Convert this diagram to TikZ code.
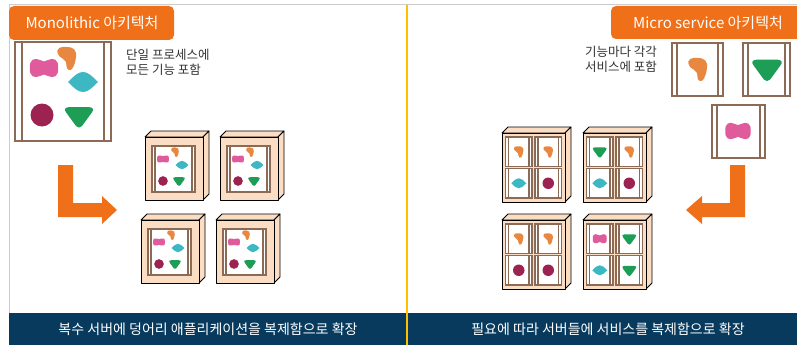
\documentclass[tikz,border=0pt]{standalone}
\usepackage{fontspec}
\setmainfont{Noto Sans CJK KR}
\usepackage{tikz}
\usetikzlibrary{calc}

\definecolor{tabOrange}{HTML}{F07019}
\definecolor{barNavy}{HTML}{083A5E}
\definecolor{splitYellow}{HTML}{FFC000}
\definecolor{frameBrown}{HTML}{8C6B56}
\definecolor{boxPeach}{HTML}{FBDDC3}
\definecolor{shOrange}{HTML}{E8873F}
\definecolor{shPink}{HTML}{E05B9B}
\definecolor{shCyan}{HTML}{3DB8C3}
\definecolor{shMaroon}{HTML}{9C2351}
\definecolor{shGreen}{HTML}{1E9D56}

\tikzset{frame/.style={draw=frameBrown, fill=white},
edge/.style={draw=black, fill=boxPeach, line width=.8pt, line join=round},
titletxt/.style={text=white, font=\fontsize{15}{18}\selectfont, inner sep=0pt},
desc/.style={text=black!80, font=\fontsize{12.5}{15}\selectfont, inner sep=0pt},
bartxt/.style={text=white, font=\fontsize{14}{16}\selectfont, inner sep=0pt},
% the five functions, drawn about their centre
blob/.pic={\fill[shOrange] (-9,-4) .. controls (-12,-10) and (-5,-12) .. (0,-11) .. controls (7,-11) and (10,-7) .. (9,-1) .. controls (8.5,4) and (7,8) .. (5,11) .. controls (3,13) and (-0.5,12) .. (-0.5,8) .. controls (-0.5,4) and (-2,1.5) .. (-4.5,0.5) .. controls (-7,-0.5) and (-8,-2) .. (-9,-4) -- cycle;},
bone/.pic={\fill[shPink] (-14,0) .. controls (-15,-9) and (-9,-10.5) .. (-4,-8) .. controls (-1.5,-6) and (1.5,-6) .. (4,-8) .. controls (9,-10.5) and (15,-9) .. (14,0) .. controls (15,9) and (9,10.5) .. (4,8) .. controls (1.5,6) and (-1.5,6) .. (-4,8) .. controls (-9,10.5) and (-15,9) .. (-14,0) -- cycle;},
gem/.pic={\fill[shCyan] (-15,0) .. controls (-9,-6) and (-5,-10) .. (0,-10) .. controls (5,-10) and (9,-6) .. (15,0) .. controls (9,6) and (5,10) .. (0,10) .. controls (-5,10) and (-9,6) .. (-15,0) -- cycle;},
dot/.pic={\fill[shMaroon] (0,0) circle (11.5);},
tri/.pic={\fill[shGreen] (-9,-9) -- (9,-9) .. controls (14,-9) and (15.5,-6.5) .. (12.5,-3) -- (3,10) .. controls (1.5,12) and (-1.5,12) .. (-3,10) -- (-12.5,-3) .. controls (-15.5,-6.5) and (-14,-9) .. (-9,-9) -- cycle;}}

% brown window: corners, inset of the inner uprights, line width
\newcommand{\pane}[6]{%
  \draw[frame, line width=#6] (#1,#2) rectangle (#3,#4);
  \draw[frameBrown, line width=#6] (#1+#5,#2) -- (#1+#5,#4) (#3-#5,#2) -- (#3-#5,#4);}
% server cabinet seen a little from above
\newcommand{\server}[4]{%
  \draw[edge] (#1,#2) -- (#1+6,#2-6) -- (#3+6,#2-6) -- (#3,#2) -- cycle;
  \draw[edge] (#3,#2) -- (#3+6,#2-6) -- (#3+6,#4-6) -- (#3,#4) -- cycle;
  \draw[edge] (#1,#2) rectangle (#3,#4);}

\begin{document}
\begin{tikzpicture}[x=1pt, y=-1pt]
  \useasboundingbox (0,0) rectangle (797,345);
  \fill[white] (0,0) rectangle (797,345);

  % page rules
  \draw[black!20, line width=1pt] (9,5) -- (797,5);
  \draw[black!20, line width=1pt] (9,5) -- (9,313);
  \fill[barNavy] (9,313) rectangle (797,345);
  \draw[splitYellow, line width=2.5pt] (407,5) -- (407,345);

  % tabs
  \fill[tabOrange, rounded corners=5pt] (9,6) rectangle (174,40);
  \fill[tabOrange, rounded corners=5pt] (611,6) rectangle (805,39);
  \node[titletxt] (monoTitle) at (92,23) {Monolithic 아키텍처};
  \node[titletxt] (microTitle) at (708,23) {Micro service 아키텍처};

  % ---- monolithic side ----
  \pane{15}{42}{111}{141}{7}{2.5pt}
  \pic at (67,58) {blob};
  \pic at (44,68) {bone};
  \pic at (83,82) {gem};
  \pic at (42,115) {dot};
  \pic at (79,116) {tri};
  \node[desc, anchor=north west, align=left] (monoDesc) at (126,49) {단일 프로세스에\\모든 기능 포함};

  \fill[tabOrange] (58,165) -- (73,165) -- (73,203) -- (102,203) -- (102,196) -- (117,210) -- (102,224) -- (102,217) -- (58,217) -- cycle;

  \foreach \x/\y in {145/137, 220/137, 141/220, 216/220}{
    \server{\x}{\y}{\x+58}{\y+63}
    \pane{\x+7}{\y+9}{\x+50}{\y+55}{3}{1.1pt}
    \pic[scale=.42] at (\x+30,\y+15) {blob};
    \pic[scale=.42] at (\x+18,\y+22) {bone};
    \pic[scale=.42] at (\x+37,\y+28) {gem};
    \pic[scale=.42] at (\x+18,\y+44) {dot};
    \pic[scale=.42] at (\x+34,\y+44) {tri};
  }
  \node[bartxt] (monoNote) at (208,329) {복수 서버에 덩어리 애플리케이션을 복제함으로 확장};

  % ---- micro service side ----
  \pane{672}{43}{723}{96}{5}{2.5pt}
  \pane{743}{43}{790}{96}{5}{2.5pt}
  \pane{712}{105}{765}{158}{5}{2.5pt}
  \pic at (698,69) {blob};
  \pic[scale=1.05] at (767,69) {tri};
  \pic[scale=.9] at (738,131) {bone};
  \node[desc, anchor=north east, align=right] (microDesc) at (657,46) {기능마다 각각\\서비스에 포함};

  \fill[tabOrange] (745,165) -- (730,165) -- (730,203) -- (702,203) -- (702,196) -- (686,210) -- (702,224) -- (702,217) -- (745,217) -- cycle;

  \foreach \x/\y/\a/\b/\c/\d in {502/133/blob/blob/gem/dot, 583/133/tri/blob/gem/dot, 502/220/blob/blob/dot/dot, 583/220/bone/tri/gem/tri}{
    \server{\x}{\y}{\x+63}{\y+69}
    \pane{\x+3.5}{\y+4}{\x+30}{\y+33.5}{3}{1.1pt}
    \pane{\x+33}{\y+4}{\x+59.5}{\y+33.5}{3}{1.1pt}
    \pane{\x+3.5}{\y+35.5}{\x+30}{\y+65}{3}{1.1pt}
    \pane{\x+33}{\y+35.5}{\x+59.5}{\y+65}{3}{1.1pt}
    \pic[scale=.5] at (\x+16.75,\y+18.75) {\a};
    \pic[scale=.5] at (\x+46.25,\y+18.75) {\b};
    \pic[scale=.5] at (\x+16.75,\y+50.25) {\c};
    \pic[scale=.5] at (\x+46.25,\y+50.25) {\d};
  }
  \node[bartxt] (microNote) at (608,329) {필요에 따라 서버들에 서비스를 복제함으로 확장};
\end{tikzpicture}
\end{document}
